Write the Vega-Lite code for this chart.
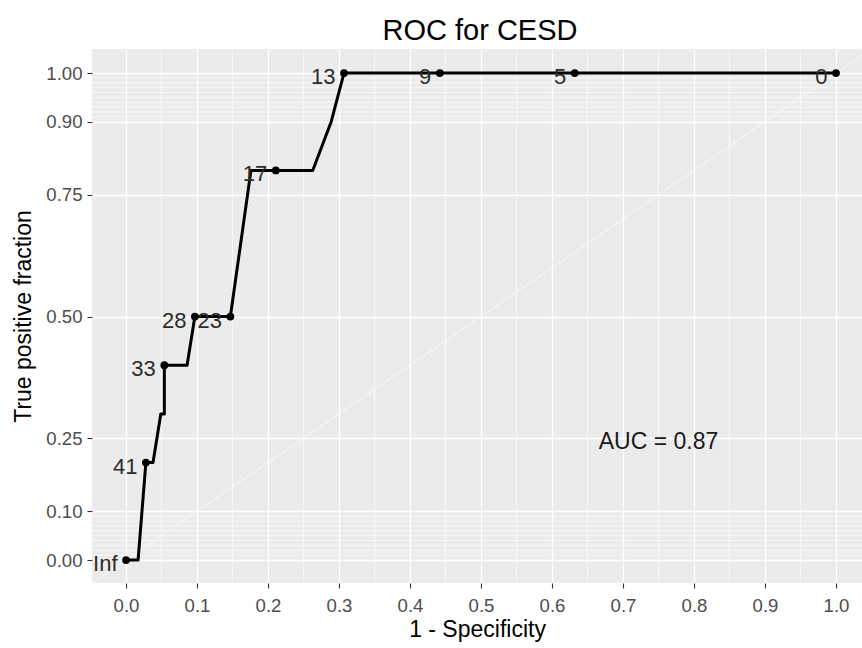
{
  "$schema": "https://vega.github.io/schema/vega-lite/v6.json",
  "width": 770,
  "height": 534,
  "autosize": {"type": "none"},
  "padding": {"left": 92, "top": 49, "right": 0, "bottom": 65},
  "title": {"text": "ROC for CESD", "fontSize": 29, "font": "Liberation Sans", "fontWeight": "normal", "color": "#000000", "anchor": "middle", "frame": "group", "offset": 3, "dx": 3},
  "config": {
    "view": {"fill": "#EBEBEB", "stroke": null},
    "font": "Liberation Sans",
    "axis": {
      "labelFont": "Liberation Sans",
      "titleFont": "Liberation Sans",
      "labelFontSize": 18.6,
      "labelColor": "#4D4D4D",
      "titleFontSize": 23,
      "titleColor": "#000000",
      "titleFontWeight": "normal",
      "domain": false,
      "tickColor": "#333333",
      "tickSize": 5,
      "tickWidth": 1.1,
      "gridColor": "#FFFFFF",
      "gridWidth": 1.3,
      "labelFlush": false,
      "labelOverlap": false
    }
  },
  "datasets": {
    "roc": [
      {"i": 0, "x": 0.0, "y": 0.0, "cut": "Inf"},
      {"i": 1, "x": 0.017, "y": 0.0, "cut": ""},
      {"i": 2, "x": 0.028, "y": 0.2, "cut": "41"},
      {"i": 3, "x": 0.038, "y": 0.2, "cut": ""},
      {"i": 4, "x": 0.049, "y": 0.3, "cut": ""},
      {"i": 5, "x": 0.054, "y": 0.3, "cut": ""},
      {"i": 6, "x": 0.054, "y": 0.4, "cut": "33"},
      {"i": 7, "x": 0.086, "y": 0.4, "cut": ""},
      {"i": 8, "x": 0.097, "y": 0.5, "cut": "28"},
      {"i": 9, "x": 0.147, "y": 0.5, "cut": "23"},
      {"i": 10, "x": 0.176, "y": 0.8, "cut": ""},
      {"i": 11, "x": 0.211, "y": 0.8, "cut": "17"},
      {"i": 12, "x": 0.263, "y": 0.8, "cut": ""},
      {"i": 13, "x": 0.289, "y": 0.9, "cut": ""},
      {"i": 14, "x": 0.307, "y": 1.0, "cut": "13"},
      {"i": 15, "x": 0.442, "y": 1.0, "cut": "9"},
      {"i": 16, "x": 0.632, "y": 1.0, "cut": "5"},
      {"i": 17, "x": 1.0, "y": 1.0, "cut": "0"}
    ],
    "minorX": [
      {"x": 0.05}, {"x": 0.15}, {"x": 0.25}, {"x": 0.35}, {"x": 0.45},
      {"x": 0.55}, {"x": 0.65}, {"x": 0.75}, {"x": 0.85}, {"x": 0.95}
    ],
    "minorY": [
      {"y": 0.01}, {"y": 0.02}, {"y": 0.03}, {"y": 0.04}, {"y": 0.05},
      {"y": 0.06}, {"y": 0.07}, {"y": 0.08}, {"y": 0.09},
      {"y": 0.91}, {"y": 0.92}, {"y": 0.93}, {"y": 0.94}, {"y": 0.95},
      {"y": 0.96}, {"y": 0.97}, {"y": 0.98}, {"y": 0.99}
    ],
    "diag": [{"x": -0.2, "y": -0.2, "x2": 1.2, "y2": 1.2}],
    "auc": [{"x": 0.75, "y": 0.25, "label": "AUC = 0.87"}]
  },
  "layer": [
    {
      "data": {"name": "minorX"},
      "mark": {"type": "rule", "color": "#FFFFFF", "strokeWidth": 0.65},
      "encoding": {
        "x": {"field": "x", "type": "quantitative", "scale": {"domain": [-0.0479, 1.0366], "nice": false, "zero": false},
          "axis": {"values": [0, 0.1, 0.2, 0.3, 0.4, 0.5, 0.6, 0.7, 0.8, 0.9, 1.0], "format": ".1f", "title": "1 - Specificity", "grid": true, "labelPadding": 8, "titlePadding": 4}}
      }
    },
    {
      "data": {"name": "minorY"},
      "mark": {"type": "rule", "color": "#FFFFFF", "strokeWidth": 0.65},
      "encoding": {
        "y": {"field": "y", "type": "quantitative", "scale": {"domain": [-0.0472, 1.0493], "nice": false, "zero": false},
          "axis": {"values": [0, 0.1, 0.25, 0.5, 0.75, 0.9, 1.0], "format": ".2f", "title": "True positive fraction", "grid": true, "labelPadding": 5, "titlePadding": 10}}
      }
    },
    {
      "data": {"name": "diag"},
      "mark": {"type": "rule", "color": "#FFFFFF", "strokeWidth": 1, "opacity": 0.7, "clip": true},
      "encoding": {
        "x": {"field": "x", "type": "quantitative", "scale": {"domain": [-0.0479, 1.0366], "nice": false, "zero": false},
          "axis": {"values": [0, 0.1, 0.2, 0.3, 0.4, 0.5, 0.6, 0.7, 0.8, 0.9, 1.0], "format": ".1f", "title": "1 - Specificity", "grid": true, "labelPadding": 8, "titlePadding": 4}},
        "y": {"field": "y", "type": "quantitative", "scale": {"domain": [-0.0472, 1.0493], "nice": false, "zero": false},
          "axis": {"values": [0, 0.1, 0.25, 0.5, 0.75, 0.9, 1.0], "format": ".2f", "title": "True positive fraction", "grid": true, "labelPadding": 5, "titlePadding": 10}},
        "x2": {"field": "x2"},
        "y2": {"field": "y2"}
      }
    },
    {
      "data": {"name": "roc"},
      "mark": {"type": "line", "color": "#000000", "strokeWidth": 3, "strokeJoin": "round"},
      "encoding": {
        "x": {"field": "x", "type": "quantitative", "scale": {"domain": [-0.0479, 1.0366], "nice": false, "zero": false},
          "axis": {"values": [0, 0.1, 0.2, 0.3, 0.4, 0.5, 0.6, 0.7, 0.8, 0.9, 1.0], "format": ".1f", "title": "1 - Specificity", "grid": true, "labelPadding": 8, "titlePadding": 4}},
        "y": {"field": "y", "type": "quantitative", "scale": {"domain": [-0.0472, 1.0493], "nice": false, "zero": false},
          "axis": {"values": [0, 0.1, 0.25, 0.5, 0.75, 0.9, 1.0], "format": ".2f", "title": "True positive fraction", "grid": true, "labelPadding": 5, "titlePadding": 10}},
        "order": {"field": "i", "type": "quantitative"}
      }
    },
    {
      "data": {"name": "roc"},
      "transform": [{"filter": "datum.cut != ''"}],
      "mark": {"type": "circle", "color": "#000000", "size": 60, "opacity": 1},
      "encoding": {
        "x": {"field": "x", "type": "quantitative", "scale": {"domain": [-0.0479, 1.0366], "nice": false, "zero": false},
          "axis": {"values": [0, 0.1, 0.2, 0.3, 0.4, 0.5, 0.6, 0.7, 0.8, 0.9, 1.0], "format": ".1f", "title": "1 - Specificity", "grid": true, "labelPadding": 8, "titlePadding": 4}},
        "y": {"field": "y", "type": "quantitative", "scale": {"domain": [-0.0472, 1.0493], "nice": false, "zero": false},
          "axis": {"values": [0, 0.1, 0.25, 0.5, 0.75, 0.9, 1.0], "format": ".2f", "title": "True positive fraction", "grid": true, "labelPadding": 5, "titlePadding": 10}}
      }
    },
    {
      "data": {"name": "roc"},
      "transform": [{"filter": "datum.cut != ''"}],
      "mark": {"type": "text", "align": "right", "baseline": "middle", "dx": -8.5, "dy": 4, "fontSize": 22, "color": "#2B2B2B", "font": "Liberation Sans"},
      "encoding": {
        "x": {"field": "x", "type": "quantitative", "scale": {"domain": [-0.0479, 1.0366], "nice": false, "zero": false},
          "axis": {"values": [0, 0.1, 0.2, 0.3, 0.4, 0.5, 0.6, 0.7, 0.8, 0.9, 1.0], "format": ".1f", "title": "1 - Specificity", "grid": true, "labelPadding": 8, "titlePadding": 4}},
        "y": {"field": "y", "type": "quantitative", "scale": {"domain": [-0.0472, 1.0493], "nice": false, "zero": false},
          "axis": {"values": [0, 0.1, 0.25, 0.5, 0.75, 0.9, 1.0], "format": ".2f", "title": "True positive fraction", "grid": true, "labelPadding": 5, "titlePadding": 10}},
        "text": {"field": "cut"}
      }
    },
    {
      "data": {"name": "auc"},
      "mark": {"type": "text", "align": "center", "baseline": "middle", "dy": 4, "fontSize": 23, "color": "#1A1A1A", "font": "Liberation Sans"},
      "encoding": {
        "x": {"field": "x", "type": "quantitative", "scale": {"domain": [-0.0479, 1.0366], "nice": false, "zero": false},
          "axis": {"values": [0, 0.1, 0.2, 0.3, 0.4, 0.5, 0.6, 0.7, 0.8, 0.9, 1.0], "format": ".1f", "title": "1 - Specificity", "grid": true, "labelPadding": 8, "titlePadding": 4}},
        "y": {"field": "y", "type": "quantitative", "scale": {"domain": [-0.0472, 1.0493], "nice": false, "zero": false},
          "axis": {"values": [0, 0.1, 0.25, 0.5, 0.75, 0.9, 1.0], "format": ".2f", "title": "True positive fraction", "grid": true, "labelPadding": 5, "titlePadding": 10}},
        "text": {"field": "label"}
      }
    }
  ]
}
